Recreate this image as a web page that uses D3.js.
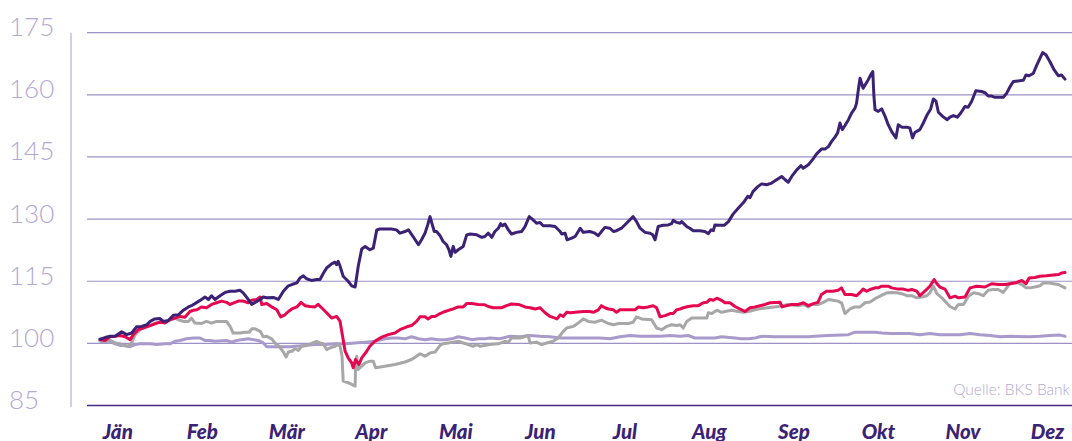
<!DOCTYPE html>
<html><head><meta charset="utf-8">
<script src="https://cdn.jsdelivr.net/npm/d3@7"></script>
<style>
html,body{margin:0;padding:0;background:#fff;}
svg{display:block;}
</style></head>
<body>
<svg id="chart" width="1072" height="441"></svg>
<script>
// ---- data ----
const months = ["Jän","Feb","Mär","Apr","Mai","Jun","Jul","Aug","Sep","Okt","Nov","Dez"];
const yTicks = [85,100,115,130,145,160,175];
const sourceLabel = "Quelle: BKS Bank";
// [trading day, indexed value]
const bksSeries = [[0,101],[1.3,101.4],[2.6,101.7],[3.9,101.7],[5.6,102.8],[6.9,102.1],[8.2,102.5],[9.5,104],[10.8,104.1],[12.1,104.5],[13,105.3],[14.2,105.9],[15.5,106],[16.4,105.3],[17.7,105.5],[19,106.8],[20.3,106.9],[21.6,108],[22.9,108.8],[23.7,109.1],[25.1,109.9],[26.3,110.6],[27.2,111.2],[28.1,110.6],[28.9,111.5],[29.8,110.6],[31.1,111.5],[32.4,112.3],[33.7,112.6],[35,112.6],[36.3,112.8],[37.1,112.2],[38.4,110.6],[39.3,109.4],[40.2,109.9],[41.5,110.6],[42.3,111.2],[43.2,111],[44.9,111.1],[46.2,110.6],[47.5,112.6],[48.8,113.9],[49.7,114.2],[51,114.6],[51.8,115.8],[52.7,116.3],[53.5,115.6],[54.8,115.2],[56.1,115.4],[57,115.4],[57.8,116.8],[58.7,118.2],[60,119.2],[60.9,119.6],[61.3,119],[61.7,119.8],[62.2,118.6],[63,116.2],[64.3,115],[65.2,113.9],[66.1,113.6],[66.9,118.6],[67.8,122.8],[68.7,123.4],[69.9,122.6],[70.8,123],[71.7,127.4],[72.5,127.6],[75.5,127.6],[76.8,127.4],[77.7,126.6],[79,127],[79.9,127.4],[81.1,125.8],[82.5,123.8],[83.3,125],[84.2,126.6],[84.9,128.6],[85.5,130.6],[86.1,128.6],[86.6,127],[87.2,127],[88.1,126],[88.9,124.6],[89.8,123.8],[90.4,122.6],[90.9,121],[91.5,123.4],[92,122],[92.8,122.6],[94.1,123.4],[95,126.2],[95.9,126.4],[97.6,126.2],[98.9,125.6],[99.7,125.8],[100.6,126.6],[101.5,125.6],[102.3,127],[103.2,127.8],[103.8,128.9],[104.3,128.4],[104.9,128.8],[105.8,127.4],[106.6,126.4],[107.9,126.8],[109.2,127],[110.1,128.2],[111.2,130.6],[112.2,129.8],[113.1,129],[114,129.2],[114.8,128.4],[116.6,128.4],[117.9,128.2],[119.2,127],[119.6,126.4],[120.5,126.6],[121,125],[122.2,125.4],[123.1,125.8],[123.9,127],[124.4,127.8],[125.2,126.8],[126.9,127],[128.2,126.6],[129.1,126],[129.9,127],[130.8,128],[132.1,127.8],[133,127],[133.8,127.2],[135.1,127.8],[136.4,129],[138.1,130.6],[139,129.4],[139.9,127.8],[141.2,126.8],[142.5,126.6],[143.2,126.2],[143.8,125],[144.6,128.2],[145.9,128.5],[147.2,128.6],[148.1,128.9],[148.5,129.7],[149.4,129.2],[150.3,129],[150.7,129.4],[152,128.2],[152.8,127.8],[153.7,127.2],[155.4,127.2],[156.7,127],[157.6,126.5],[158.3,127.4],[158.9,127.2],[159.3,128.6],[160.6,128.5],[161.7,128.5],[162.8,129.4],[164,131.2],[165.4,132.7],[166.7,134],[167.8,135.5],[168.4,135.2],[169.2,136.7],[170.5,137.9],[171.4,138.5],[172.7,138.3],[174,138.7],[175.3,139.5],[176.6,140.3],[177.5,139.5],[178.3,138.9],[179.2,140.3],[180.5,141.9],[181.6,142.9],[182.2,142.3],[183.5,143.1],[184.8,144.6],[185.6,145.7],[186.9,146.9],[187.8,146.9],[188.7,147.5],[189.5,148.7],[190.4,149.8],[191.1,150.8],[191.7,153.2],[192.3,151.6],[193,152.6],[193.9,154],[194.7,155.6],[195.6,156.8],[196,158],[196.4,160.8],[196.9,164],[197.7,161.6],[199,163.6],[199.9,165.2],[200.2,165.6],[200.5,159.6],[200.8,156.4],[201.6,156],[202.5,156.6],[203.4,154.8],[204.2,152.8],[205.1,151.1],[206.2,149.6],[206.8,152.8],[207.7,152.2],[209,152.2],[209.8,152],[210.5,149.6],[211.1,150.9],[212.4,151.6],[213.3,153.2],[214.3,155.2],[215.2,156.6],[215.9,159],[216.6,158.4],[217.2,155.8],[218.3,154.8],[219.5,154],[220.2,154.6],[221.1,155],[222.1,154.6],[223,155.6],[224.1,157.2],[224.9,157],[225.8,158.4],[226.9,161],[228.4,160.8],[229.3,160.5],[230.1,159.7],[231,159.7],[231.9,159.4],[234,159.4],[234.9,160.4],[235.8,162],[236.6,163.2],[239.2,163.5],[239.9,164.8],[240.7,164.6],[241.8,165.2],[242.6,167],[243.5,168.8],[244.2,170.2],[245.1,169.6],[246.1,168],[247.2,166],[248.3,164.6],[249.1,164.8],[250,163.8]];
const redSeries = [[0,100.9],[1.3,100.7],[2.6,101.6],[3.9,101.7],[5.2,101.9],[6.5,101.6],[7.8,100.9],[8.6,102.1],[9.9,103.3],[11.2,103.7],[13,104.3],[14.7,104.9],[16,105.3],[16.8,104.9],[18.1,105.7],[19.4,106.1],[20.7,106.5],[22,106.3],[23.3,107.7],[24.2,108],[25.1,108.1],[26.3,108.8],[27.6,108.6],[28.9,109.4],[30.2,109.8],[31.5,110.2],[32.8,109.9],[33.7,109.4],[35,109.9],[35.8,110.2],[37.1,110.2],[38.4,109.8],[39.3,110.4],[40.6,110.6],[41.5,111.2],[41.9,109.4],[43.2,109.6],[44.5,108.8],[45.8,108.1],[46.8,106.4],[47.9,106.9],[48.8,107.7],[49.7,108.3],[51,108.8],[52.1,109.9],[53.1,109.1],[54.4,108.9],[55.7,108.8],[56.5,109.4],[57.4,108.6],[58.7,107.4],[60,106.1],[61.3,106.5],[62.2,105.3],[62.7,102.5],[63.5,98.1],[64.3,96.5],[65.2,95.3],[65.6,94.1],[66.2,96.1],[67.1,94.9],[67.8,96.5],[69.1,98.1],[69.9,99.3],[71.2,100.5],[73,101.5],[74.7,102.1],[76.4,102.5],[77.7,103.3],[79.5,104],[80.7,104.3],[82,105.3],[82.9,106.4],[84.2,106.4],[85,105.9],[85.9,106.5],[86.8,106.5],[88.1,107.2],[89.4,107.7],[90.7,108.1],[91.5,108.3],[92.8,108.8],[94.1,108.8],[95,109.6],[96.3,109.6],[98,109.4],[99.7,109.3],[100.6,108.9],[101.9,108.6],[104,108.6],[105.3,109.1],[106.6,109.5],[108.4,109.4],[110.1,108.8],[111.4,108.6],[112.7,108.3],[114,108.6],[115.3,107.4],[116.6,106.5],[117.9,106.1],[118.4,105.9],[119.2,106.9],[120,106.5],[120.9,107.5],[121.8,107.4],[123.1,107.5],[125.2,107.7],[126.9,107.7],[127.8,107.5],[129.1,108.1],[129.9,109.1],[130.8,108.6],[131.7,108.3],[133,108.1],[133.8,107.5],[134.7,108.1],[138.6,108.1],[139.5,108.8],[140.7,108.6],[142,108.8],[143.3,109.1],[144.2,108.6],[145.1,106.4],[146.4,106.7],[147.7,107.2],[148.5,107.2],[149.4,108.1],[150.3,108.3],[151.1,108.6],[152.4,108.9],[153.7,109.1],[155,109.1],[156.3,109.8],[157.2,109.9],[158,110.6],[158.9,110.4],[159.8,110.9],[161,110.4],[161.9,109.8],[163.2,109.8],[164.5,108.9],[165.8,108.3],[167.1,107.7],[168.4,108.6],[169.7,108.8],[171,109.1],[172.3,109.4],[173.6,109.8],[176.2,109.9],[176.7,108.8],[177.9,109.1],[179.2,109.4],[180.9,109.4],[182.2,109.8],[183.5,109.1],[184.8,109.6],[186,109.9],[186.9,111.8],[188.2,112.6],[189.9,112.6],[191.2,112.8],[192.1,113.4],[193,111.8],[194.7,111.8],[196,111.5],[196.9,112.3],[197.7,113.1],[198.6,112.6],[199.5,113],[200.8,113.4],[201.6,113.4],[202.5,113.8],[204.2,113.8],[205.1,113.4],[206.8,113.1],[208.1,113.1],[209.4,112.8],[210.3,113],[211.6,112.6],[212.4,111.5],[213.7,112.6],[215,113.8],[216.1,115.4],[216.8,114.4],[217.6,113.6],[218.9,113.1],[220.2,111],[221.5,111.4],[222.4,111],[224.1,111.2],[225.4,113.4],[227.1,113.8],[229.3,113.6],[231,114.4],[232.7,114.2],[234.5,114.2],[235.8,114.4],[237.5,114.7],[238.8,115.2],[239.9,114.4],[240.7,115.8],[242.2,115.9],[243.5,116.2],[245.2,116.3],[247,116.5],[248.3,116.6],[249.1,117],[250,117.1]];
const graySeries = [[0,100.7],[1.3,100.5],[2.6,100.7],[3.9,100.1],[5.2,99.9],[6,99.5],[7.3,99.3],[8.2,100.1],[9.1,102.1],[10.4,103.3],[11.7,104],[13,104.3],[14.2,104.8],[15.5,105.1],[16.8,105.1],[18.1,105.7],[19.4,106.1],[20.3,105.7],[21.6,105.3],[22.9,105.3],[23.7,106.1],[24.6,104.9],[26.3,104.8],[27.6,105.3],[28.9,104.9],[30.2,105.3],[32.8,105.3],[33.7,104.1],[34.5,102.5],[36.3,102.5],[37.6,102.7],[38.7,102.7],[39.3,103.5],[40.2,103.5],[41.5,102.9],[42.3,101.6],[43.2,101.7],[44.5,101.1],[45.3,100.1],[46.4,99.3],[47.5,97.9],[48.2,96.7],[48.8,97.9],[49.7,98.1],[50.5,98.7],[51.4,98.3],[52.2,99.3],[53.5,99.5],[54.8,100],[56.1,100.5],[57,100.1],[57.8,99.9],[58.7,98.5],[59.6,98.9],[60.9,99.3],[61.7,99.7],[62.2,99.3],[62.7,96.9],[63,90.9],[64.3,90.5],[66.1,89.7],[66.2,94.1],[66.5,96.9],[66.9,93.7],[67.8,94.5],[68.7,95.3],[69.9,95.7],[70.8,95.7],[71.4,94.1],[73.8,94.5],[76.4,94.9],[79,95.5],[80.7,96.1],[82,96.9],[82.9,97.5],[84.2,96.9],[85.5,97.7],[86.8,97.9],[88.1,99.5],[88.9,99.9],[90.2,100.1],[91.5,100.3],[92.8,100.5],[94.1,100.1],[95.4,99.7],[96.6,99.3],[97.7,99.7],[98.4,99.3],[101,99.7],[103.2,99.9],[104.9,100.5],[105.8,100.3],[106.6,101.3],[108.8,101.3],[110.9,101.9],[111.4,100.1],[113.1,100.3],[114.4,99.7],[115.7,100.1],[117.4,100.5],[118.7,101.3],[120,102.9],[120.9,103.7],[122.6,104.1],[123.9,104.9],[125.2,105.9],[126.5,105.3],[128.2,105.1],[129.9,105.6],[131.7,104.8],[133,104.5],[134.3,104.8],[136.9,104.8],[138.1,105.1],[139,106.4],[140.3,105.9],[142.9,105.7],[144.2,103.7],[145.5,103.3],[146.8,104.1],[148.1,104.5],[149.4,104.3],[150.3,104.5],[151.1,103.7],[152,105.3],[153.3,106.1],[157.2,106.1],[157.6,107.4],[158.5,107.2],[159.8,108],[161,107.5],[163.6,108],[165.4,107.7],[166.7,107.5],[168,107.7],[169.2,108],[170.5,108.3],[173.1,108.6],[175.7,108.9],[178.3,109.4],[180.9,109.1],[182.2,109.4],[183.5,108.8],[184.4,109.4],[186.1,109.4],[187.4,109.9],[188.7,110.6],[189.9,110.4],[191.2,110.2],[192.1,109.8],[193,107.2],[194.3,108.3],[195.6,108.8],[196.9,108.8],[198.2,109.8],[199.5,110],[200.8,110.8],[202.1,111.4],[203.8,112.2],[205.1,112.3],[206.4,112.2],[207.7,112],[209,111.5],[210.3,111.5],[211.6,111],[212.9,111.2],[214.2,111.5],[215,112.2],[215.9,113.8],[216.8,112],[218.1,111],[218.9,110.2],[220.2,108.9],[221.5,108.3],[222.4,109.4],[223.7,109.4],[225,111.4],[226.3,112.2],[227.6,112],[228.8,111.5],[230.1,112.8],[231.4,113],[232.7,113],[234,112.3],[234.9,113.4],[235.8,114.6],[237.5,114.7],[238.8,114.2],[239.9,113.4],[240.9,113.4],[242.2,113.6],[243.5,113.9],[244.4,114.6],[245.7,114.6],[247,114.4],[248.3,114.2],[249.1,113.8],[250,113.4]];
const lilacSeries = [[0,100.5],[2.6,100.5],[3.9,99.9],[5.2,99.5],[6.5,99.5],[7.8,99.2],[9.1,99.7],[10.4,99.9],[13,99.9],[14.7,99.7],[16.8,99.9],[18.1,99.9],[19.4,100.5],[20.7,100.7],[22.4,101.1],[24.2,101.3],[25.9,101.3],[27.2,100.7],[28.5,100.7],[29.8,100.5],[32.8,100.7],[34.1,100.3],[35.4,100.7],[36.7,100.9],[38.4,101.1],[39.7,100.9],[41,100.7],[42.3,100.1],[43.2,99.2],[49.2,99.2],[50.5,99.3],[53.1,99.5],[55.7,99.7],[58.3,99.7],[60.9,99.9],[63.5,99.9],[66.1,100.1],[68.7,100.3],[71.2,100.5],[73.8,101.1],[75.6,101.3],[77.3,101.3],[79,101.1],[80.7,101.6],[82.5,101.1],[84.2,100.9],[85.9,101.1],[87.6,100.9],[89.4,100.9],[91.1,101.1],[92.8,101.6],[94.6,101.3],[96.3,100.9],[98,101.1],[99.7,101.1],[101,101.3],[103.6,101.1],[106.2,101.7],[108.8,101.6],[111.4,101.9],[114,101.7],[116.6,101.6],[119.2,101.3],[129.5,101.3],[132.1,101.1],[134.7,101.6],[137.3,101.9],[139.9,101.7],[145.1,101.7],[147.7,101.9],[150.3,101.7],[152.4,101.9],[154.1,101.3],[159.3,101.3],[161,101.6],[164.5,101.3],[166.2,101.1],[167.9,101.1],[169.7,101.3],[171.4,101.7],[174.9,101.6],[183.5,101.6],[185.2,101.7],[188.7,101.9],[193.9,102.1],[195.6,102.7],[200.8,102.7],[202.6,102.5],[204.7,102.4],[209.8,102.4],[212.4,102.1],[215,102.4],[217.6,102.1],[222.8,102.1],[225.4,102.4],[228,102.1],[230.6,101.9],[233.2,101.6],[235.8,101.7],[240.9,101.6],[243.5,101.7],[246.1,101.9],[248.7,102],[250,101.7]];

// ---- layout ----
const svg = d3.select("#chart");
const x = d3.scaleLinear().domain([0,250]).range([100,1065]);
const y = d3.scaleLinear().domain([85,175]).range([405.5,32.7]);
const xm = d3.scalePoint().domain(months).range([117.8,1047.5]);

// y axis vertical line
svg.append("line").attr("x1",71).attr("x2",71).attr("y1",y(175)).attr("y2",y(85)+1.5)
  .attr("stroke","#c4bcdc").attr("stroke-width",1.5);

// gridlines
svg.append("g").selectAll("line").data(yTicks.filter(d=>d!==85)).join("line")
  .attr("x1",87).attr("x2",1072).attr("y1",d=>y(d)).attr("y2",d=>y(d))
  .attr("stroke","#9d91c5").attr("stroke-width",1.2);

// y labels
svg.append("g").selectAll("text").data(yTicks).join("text")
  .attr("x",9).attr("y",d=>y(d)+3.5)
  .attr("font-family","Lato, 'Open Sans', sans-serif").attr("font-weight",300)
  .attr("font-size",26).attr("fill","#b2a8d3").text(d=>d);

// lines
const line = d3.line().x(d=>x(d[0])).y(d=>y(d[1])).curve(d3.curveLinear);
const series = [
  {data: lilacSeries, color:"#a89bcb"},
  {data: graySeries, color:"#a7a7a7"},
  {data: redSeries, color:"#e5074f"},
  {data: bksSeries, color:"#3b2275"}
];
svg.append("g").selectAll("path").data(series).join("path")
  .attr("d",d=>line(d.data)).attr("fill","none").attr("stroke",d=>d.color)
  .attr("stroke-width",3).attr("stroke-linejoin","round").attr("stroke-linecap","round");

// bottom axis line
svg.append("line").attr("x1",87).attr("x2",1072).attr("y1",y(85)).attr("y2",y(85))
  .attr("stroke","#4a2b86").attr("stroke-width",1.6);

// month labels
svg.append("g").selectAll("text").data(months).join("text")
  .attr("x",d=>xm(d)).attr("y",438.5).attr("text-anchor","middle")
  .attr("font-family","Lato, 'Open Sans', sans-serif").attr("font-weight",900).attr("font-style","italic")
  .attr("font-size",20.5).attr("fill","#3b2275").text(d=>d);

// source
svg.append("text").attr("x",1070).attr("y",395).attr("text-anchor","end")
  .attr("font-family","Lato, 'Open Sans', sans-serif").attr("font-weight",300)
  .attr("font-size",15.5).attr("fill","#b2a8d3").text(sourceLabel);
</script>
</body></html>
